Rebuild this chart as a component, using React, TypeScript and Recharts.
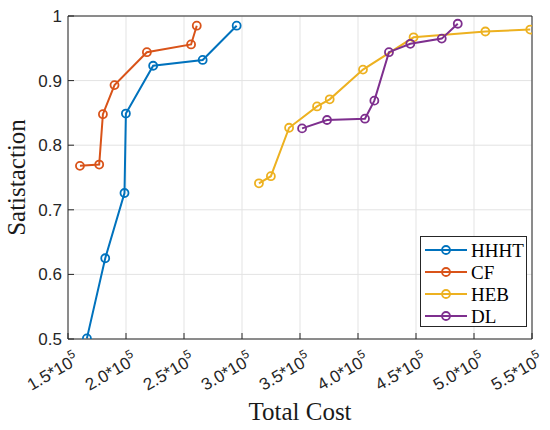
import React from 'react';
import { LineChart, Line, XAxis, YAxis, CartesianGrid, Legend } from 'recharts';

const hhhtCost = [166300, 182100, 198700, 199900, 223400, 266100, 295400];
const hhhtSat = [0.501, 0.625, 0.726, 0.849, 0.923, 0.932, 0.985];

const cfCost = [160300, 176900, 180100, 190100, 218000, 256100, 261000];
const cfSat = [0.768, 0.77, 0.848, 0.893, 0.944, 0.956, 0.985];

const hebCost = [314600, 324900, 340600, 364700, 375600, 404300, 447900, 509800, 548500];
const hebSat = [0.741, 0.752, 0.827, 0.86, 0.871, 0.917, 0.967, 0.976, 0.979];

const dlCost = [351800, 373300, 406000, 414100, 426700, 445100, 472200, 486000];
const dlSat = [0.826, 0.839, 0.841, 0.869, 0.944, 0.957, 0.965, 0.988];

const costTicks = [150000, 200000, 250000, 300000, 350000, 400000, 450000, 500000, 550000];
const satTicks = [0.5, 0.6, 0.7, 0.8, 0.9, 1];

const zip = (xs: number[], ys: number[]) => xs.map((x, i) => ({ cost: x, sat: ys[i] }));

const series = [
  { name: 'HHHT', color: '#0072BD', data: zip(hhhtCost, hhhtSat) },
  { name: 'CF', color: '#D95319', data: zip(cfCost, cfSat) },
  { name: 'HEB', color: '#EDB120', data: zip(hebCost, hebSat) },
  { name: 'DL', color: '#7E2F8E', data: zip(dlCost, dlSat) },
];

const axisColor = '#262626';
const sans = '"Liberation Sans", Arial, sans-serif';
const serif = '"Liberation Serif", "Times New Roman", serif';

const CostTick = (props: any) => {
  const { x, y, payload } = props;
  const mant = (payload.value / 1e5).toFixed(1);
  return (
    <g transform={`translate(${x + 12},${y + 24}) rotate(-30)`}>
      <text x={0} y={0} textAnchor="end" fontSize={17} fill={axisColor} fontFamily={sans}>
        {mant}*10
        <tspan dy={-8} fontSize={12}>5</tspan>
      </text>
    </g>
  );
};

const LegendBox = () => (
  <div
    style={{
      width: 105,
      height: 89,
      border: `1px solid ${axisColor}`,
      background: '#fff',
      boxSizing: 'content-box',
    }}
  >
    <svg width={105} height={89}>
      {series.map((s, i) => {
        const cy = 13 + i * 22;
        return (
          <g key={s.name}>
            <line x1={4} x2={46} y1={cy} y2={cy} stroke={s.color} strokeWidth={2} />
            <circle cx={25} cy={cy} r={4} fill="none" stroke={s.color} strokeWidth={1.8} />
            <text x={50} y={cy + 6.5} fontSize={19} fontFamily={serif} fill="#000">
              {s.name}
            </text>
          </g>
        );
      })}
    </svg>
  </div>
);

export default function App() {
  return (
    <div style={{ position: 'absolute', left: 0, top: 0, width: 550, height: 430, background: '#fff' }}>
      <LineChart width={550} height={430} margin={{ top: 16, right: 18, left: 0, bottom: 0 }}>
        <CartesianGrid stroke="#e3e3e3" strokeWidth={1} />
        <XAxis
          type="number"
          dataKey="cost"
          domain={[150000, 550000]}
          ticks={costTicks}
          interval={0}
          allowDataOverflow
          height={91}
          stroke={axisColor}
          tickSize={-6}
          tickMargin={6}
          tick={<CostTick />}
          label={{
            value: 'Total Cost',
            position: 'insideBottom',
            offset: 10,
            style: { fontFamily: serif, fontSize: 25, fill: '#1a1a1a' },
          }}
        />
        <XAxis
          xAxisId="top"
          type="number"
          orientation="top"
          mirror
          domain={[150000, 550000]}
          ticks={costTicks}
          interval={0}
          allowDataOverflow
          height={1}
          stroke={axisColor}
          tickSize={6}
          tick={false}
        />
        <YAxis
          type="number"
          dataKey="sat"
          domain={[0.5, 1]}
          ticks={satTicks}
          interval={0}
          allowDataOverflow
          width={68}
          stroke={axisColor}
          tickSize={-6}
          tickMargin={12}
          tick={{ fontSize: 17, fill: axisColor, fontFamily: sans }}
          label={{
            value: 'Satistaction',
            angle: -90,
            position: 'insideLeft',
            offset: 16,
            style: { fontFamily: serif, fontSize: 25, fill: '#1a1a1a', textAnchor: 'middle' },
          }}
        />
        <YAxis
          yAxisId="right"
          type="number"
          orientation="right"
          mirror
          domain={[0.5, 1]}
          ticks={satTicks}
          interval={0}
          allowDataOverflow
          width={1}
          stroke={axisColor}
          tickSize={6}
          tick={false}
        />
        <Legend
          layout="vertical"
          align="center"
          verticalAlign="middle"
          content={<LegendBox />}
          wrapperStyle={{ left: 420, top: 236, width: 107, height: 91 }}
        />
        {series.map((s) => (
          <Line
            key={s.name}
            name={s.name}
            data={s.data}
            dataKey="sat"
            stroke={s.color}
            strokeWidth={2}
            dot={{ r: 4, fill: 'none', stroke: s.color, strokeWidth: 1.8 }}
            isAnimationActive={false}
          />
        ))}
      </LineChart>
    </div>
  );
}
